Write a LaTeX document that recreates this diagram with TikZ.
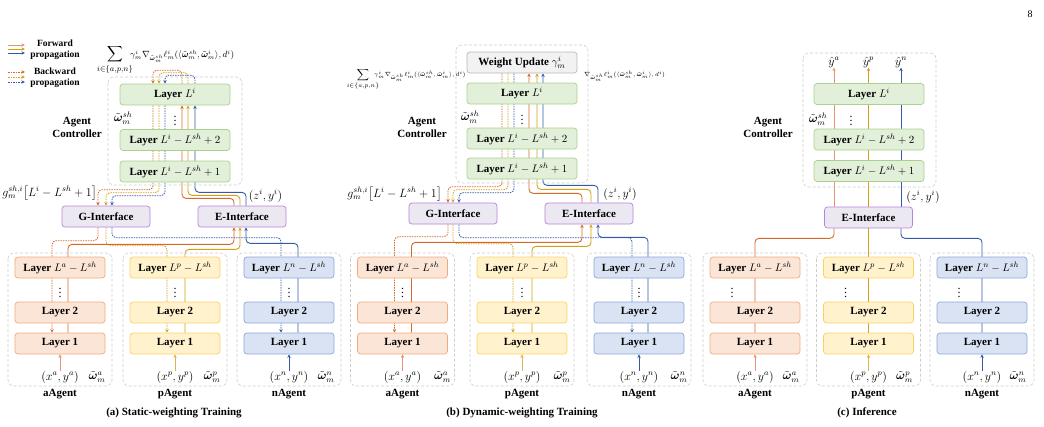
\documentclass[tikz,border=0pt]{standalone}
\usepackage{fontspec}
\setmainfont{Liberation Serif}
\usepackage{amsmath,bm}
\usetikzlibrary{arrows.meta,calc}
\pgfdeclarelayer{bg}
\pgfsetlayers{bg,main}
\definecolor{aF}{RGB}{251,229,214}\definecolor{aB}{RGB}{240,170,125}
\definecolor{pF}{RGB}{255,242,204}\definecolor{pB}{RGB}{250,210,100}
\definecolor{nF}{RGB}{218,227,243}\definecolor{nB}{RGB}{140,168,218}
\definecolor{gF}{RGB}{226,240,217}\definecolor{gB}{RGB}{169,209,142}
\definecolor{iF}{RGB}{236,232,241}\definecolor{iB}{RGB}{185,130,220}
\definecolor{wF}{RGB}{242,242,242}\definecolor{wB}{RGB}{185,185,185}
\definecolor{contC}{RGB}{205,205,205}
\definecolor{oD}{RGB}{212,105,40}\definecolor{oL}{RGB}{232,148,110}
\definecolor{yD}{RGB}{212,160,20}\definecolor{yL}{RGB}{222,180,80}
\definecolor{bD}{RGB}{55,90,168}
\tikzset{
  box/.style={draw, rounded corners=3pt, line width=0.7pt, minimum height=21pt, inner sep=1pt, font=\bfseries\fontsize{11}{13}\selectfont},
  ag/.style={box, minimum width=90pt},
  boxA/.style={ag, fill=aF, draw=aB},
  boxP/.style={ag, fill=pF, draw=pB},
  boxN/.style={ag, fill=nF, draw=nB},
  ctl/.style={box, minimum width=110pt, fill=gF, draw=gB},
  itf/.style={box, minimum width=88pt, fill=iF, draw=iB},
  wup/.style={box, minimum width=110pt, fill=wF, draw=wB},
  cont/.style={draw=contC, dash pattern=on 3pt off 2pt, rounded corners=6pt, line width=0.6pt},
  lbl/.style={font=\fontsize{12}{14}\selectfont, inner sep=0pt},
  bfl/.style={font=\bfseries\fontsize{11}{13}\selectfont, inner sep=0pt},
  tip/.style={-{Stealth[length=3.6pt,width=3.4pt]}},
  fw/.style={line width=0.9pt, rounded corners=4pt, tip},
  fwn/.style={line width=0.9pt, rounded corners=4pt},
  bw/.style={line width=0.8pt, rounded corners=4pt, dash pattern=on 1.5pt off 1pt, tip},
}
\newcommand\agentcol[7]{%
  \node[#3] (#1T) at (#2,267.5) {Layer $L^{#4}-L^{sh}$};
  \node[#3] (#1two) at (#2,312.5) {Layer 2};
  \node[#3] (#1one) at (#2,343.5) {Layer 1};
  \node[lbl] (#1dots) at ({#2+#5},290) {$\vdots$};
  \node[lbl] (#1xy) at (#2,377) {$(x^{#4},y^{#4})$};
  \node[lbl] (#1w) at ({#2+#6},377) {$\tilde{\bm\omega}^{#4}_m$};
  \node[bfl] (#1name) at (#2,394) {#4Agent};
  \draw[#7, line width=0.9pt, tip] (#1xy.north) -- (#1one.south);
  \coordinate (#1bl) at ({#2-52},253);
  \coordinate (#1tr) at ({#2+52},386);
  \draw[cont] (#1bl) rectangle (#1tr);
}
\begin{document}
\begin{tikzpicture}[x=1pt,y=-1pt]
\useasboundingbox (0,0) rectangle (1044,426);
\node[font=\fontsize{10}{12}\selectfont] (pg) at (1030,14) {8};
% ---------- legend
\coordinate (lf1a) at (8,45);\coordinate (lf1b) at (25,45);
\coordinate (lf2a) at (8,49);\coordinate (lf2b) at (25,49);
\coordinate (lf3a) at (8,53);\coordinate (lf3b) at (25,53);
\coordinate (lb1a) at (8,72);\coordinate (lb1b) at (25,72);
\coordinate (lb2a) at (8,77);\coordinate (lb2b) at (25,77);
\coordinate (lb3a) at (8,82);\coordinate (lb3b) at (25,82);
\draw[fw, oL] (lf1a) -- (lf1b);
\draw[fw, yD] (lf2a) -- (lf2b);
\draw[fw, bD] (lf3a) -- (lf3b);
\draw[bw, oD] (lb1a) -- (lb1b);
\draw[bw, yD] (lb2a) -- (lb2b);
\draw[bw, bD] (lb3a) -- (lb3b);
\node[font=\bfseries\fontsize{9.5}{11}\selectfont, align=center, inner sep=0pt] (legF) at (55,49.5) {Forward\\propagation};
\node[font=\bfseries\fontsize{9.5}{11}\selectfont, align=center, inner sep=0pt] (legB) at (55,77.5) {Backward\\propagation};

% ================= panel (a)
\node[ctl] (ALi) at (175,94.5) {Layer $L^i$};
\node[ctl] (ALb) at (175,140) {Layer $L^i-L^{sh}+2$};
\node[ctl] (ALa) at (175,171.5) {Layer $L^i-L^{sh}+1$};
\draw[cont] (108,77) rectangle (242,185);
\node[bfl, align=center] (Actl) at (77,127) {Agent\\Controller};
\node[lbl] (Aw) at (123,118) {$\tilde{\bm\omega}^{sh}_m$};
\node[lbl] (Adots) at (175,118) {$\vdots$};
\node[itf] (AG) at (106,216.5) {G-Interface};
\node[itf] (AE) at (242,216.5) {E-Interface};
\node[lbl, anchor=east] (Ag) at (97,193) {$g^{sh,i}_m\big[L^i-L^{sh}+1\big]$};
\node[lbl] (Azy) at (265.5,196) {$(z^i,y^i)$};
\node[inner sep=0pt, font=\fontsize{11}{12}\selectfont] (Asum) at (115,60) {$\displaystyle\sum_{i\in\{a,p,n\}}$};
\node[inner sep=0pt, font=\fontsize{9}{10}\selectfont, anchor=west] (Aform) at (130,56) {$\gamma^i_m\nabla_{\tilde{\bm\omega}^{sh}_m}\ell^i_m(\langle\tilde{\bm\omega}^{sh}_m,\tilde{\bm\omega}^i_m\rangle,d^i)$};
\agentcol{Aa}{60}{boxA}{a}{0}{37}{oL}
\agentcol{Ap}{175}{boxP}{p}{0}{37}{yL}
\agentcol{An}{289}{boxN}{n}{0}{37}{bD}
\node[bfl] (Acap) at (174,413) {(a) Static-weighting Training};
\begin{pgfonlayer}{bg}
\draw[fw, oD] ($(AE.north)+(-8,0)$) |- ($(ALa.south)+(7,16)$) -- ($(ALi.south)+(7,0)$);
\draw[fw, yD] ($(AE.north)+(-2,0)$) |- ($(ALa.south)+(13,13)$) -- ($(ALi.south)+(13,0)$);
\draw[fw, bD] ($(AE.north)+(4,0)$) |- ($(ALa.south)+(20,10)$) -- ($(ALi.south)+(20,0)$);
\draw[bw, oD] ($(ALi.north)+(7,0)$) |- ($(ALi.north)+(-22,-13.5)$) -- ($(ALi.north)+(-22,0)$);
\draw[bw, yD] ($(ALi.north)+(13,0)$) |- ($(ALi.north)+(-16,-11)$) -- ($(ALi.north)+(-16,0)$);
\draw[bw, bD] ($(ALi.north)+(20,0)$) |- ($(ALi.north)+(-10,-8.5)$) -- ($(ALi.north)+(-10,0)$);
\draw[bw, oD] ($(ALi.south)+(-22,0)$) |- ($(AG.north)+(-8,-16)$) -- ($(AG.north)+(-8,0)$);
\draw[bw, yD] ($(ALi.south)+(-16,0)$) |- ($(AG.north)+(0,-13)$) -- (AG.north);
\draw[bw, bD] ($(ALi.south)+(-10,0)$) |- ($(AG.north)+(6,-10)$) -- ($(AG.north)+(6,0)$);
\draw[bw, oD] ($(AG.south)+(-8,0)$) |- ($(AaT.north)+(-8,-16)$) -- ($(Aaone.north)+(-8,0)$);
\draw[bw, yD] (AG.south) |- ($(ApT.north)+(-8,-11)$) -- ($(Apone.north)+(-8,0)$);
\draw[bw, bD] ($(AG.south)+(6,0)$) |- ($(AnT.north)+(-8,-19)$) -- ($(Anone.north)+(-8,0)$);
\draw[fw, oD] ($(Aaone.north)+(8,0)$) |- ($(AE.south)+(-8,17)$) -- ($(AE.south)+(-8,0)$);
\draw[fw, yD] ($(Apone.north)+(10,0)$) |- ($(AE.south)+(-2,22)$) -- ($(AE.south)+(-2,0)$);
\draw[fw, bD] ($(Anone.north)+(9,0)$) |- ($(AE.south)+(4,16)$) -- ($(AE.south)+(4,0)$);
\end{pgfonlayer}

% ================= panel (b)
\node[wup] (BWU) at (522,62.5) {Weight Update $\gamma^i_m$};
\node[ctl] (BLi) at (522,93.5) {Layer $L^i$};
\node[ctl] (BLb) at (522,138.5) {Layer $L^i-L^{sh}+2$};
\node[ctl] (BLa) at (522,168.5) {Layer $L^i-L^{sh}+1$};
\draw[cont] (456,45) rectangle (588,183);
\node[bfl, align=center] (Bctl) at (422,127) {Agent\\Controller};
\node[lbl] (Bw) at (470,117) {$\tilde{\bm\omega}^{sh}_m$};
\node[lbl] (Bdots) at (522,117) {$\vdots$};
\node[itf] (BG) at (453,213.5) {G-Interface};
\node[itf] (BE) at (589,213.5) {E-Interface};
\node[lbl, anchor=east] (Bg) at (442,194) {$g^{sh,i}_m\big[L^i-L^{sh}+1\big]$};
\node[lbl] (Bzy) at (620,194) {$(z^i,y^i)$};
\node[inner sep=0pt, font=\fontsize{8}{9}\selectfont] (Bsum) at (363,79) {$\displaystyle\sum_{i\in\{a,p,n\}}$};
\node[inner sep=0pt, font=\fontsize{6}{7}\selectfont, anchor=west] (Bform) at (374,76) {$\gamma^i_m\nabla_{\tilde{\bm\omega}^{sh}_m}\ell^i_m(\langle\tilde{\bm\omega}^{sh}_m,\tilde{\bm\omega}^i_m\rangle,d^i)$};
\node[inner sep=0pt, font=\fontsize{6}{7}\selectfont, anchor=west] (Bform2) at (584,76) {$\nabla_{\tilde{\bm\omega}^{sh}_m}\ell^i_m(\langle\tilde{\bm\omega}^{sh}_m,\tilde{\bm\omega}^i_m\rangle,d^i)$};
\agentcol{Ba}{402.5}{boxA}{a}{0}{40}{oL}
\agentcol{Bp}{522}{boxP}{p}{0}{40}{yL}
\agentcol{Bn}{639}{boxN}{n}{0}{40}{bD}
\node[bfl] (Bcap) at (522,413) {(b) Dynamic-weighting Training};
\begin{pgfonlayer}{bg}
\draw[fw, oD] ($(BE.north)+(-7,0)$) |- ($(BLa.south)+(7,14)$) -- ($(BWU.south)+(7,0)$);
\draw[fw, yD] ($(BE.north)+(2,0)$) |- ($(BLa.south)+(15,10)$) -- ($(BWU.south)+(15,0)$);
\draw[fw, bD] ($(BE.north)+(9,0)$) |- ($(BLa.south)+(21,6)$) -- ($(BWU.south)+(21,0)$);
\draw[bw, oD] ($(BWU.south)+(-20,0)$) |- ($(BG.north)+(-5,-16)$) -- ($(BG.north)+(-5,0)$);
\draw[bw, yD] ($(BWU.south)+(-14,0)$) |- ($(BG.north)+(0,-13)$) -- (BG.north);
\draw[bw, bD] ($(BWU.south)+(-8,0)$) |- ($(BG.north)+(6,-10)$) -- ($(BG.north)+(6,0)$);
\draw[bw, oD] ($(BG.south)+(-5,0)$) |- ($(BaT.north)+(-8,-20)$) -- ($(Baone.north)+(-8,0)$);
\draw[bw, yD] (BG.south) |- ($(BpT.north)+(-9,-13)$) -- ($(Bpone.north)+(-9,0)$);
\draw[bw, bD] ($(BG.south)+(6,0)$) |- ($(BnT.north)+(-7,-19)$) -- ($(Bnone.north)+(-7,0)$);
\draw[fw, oD] ($(Baone.north)+(9,0)$) |- ($(BE.south)+(-7,18)$) -- ($(BE.south)+(-7,0)$);
\draw[fw, yD] ($(Bpone.north)+(10,0)$) |- ($(BE.south)+(2,22)$) -- ($(BE.south)+(2,0)$);
\draw[fw, bD] ($(Bnone.north)+(9,0)$) |- ($(BE.south)+(9,13)$) -- ($(BE.south)+(9,0)$);
\end{pgfonlayer}

% ================= panel (c)
\node[ctl] (CLi) at (869,94) {Layer $L^i$};
\node[ctl] (CLb) at (869,139.5) {Layer $L^i-L^{sh}+2$};
\node[ctl] (CLa) at (869,171) {Layer $L^i-L^{sh}+1$};
\draw[cont] (803,53) rectangle (936,187);
\node[bfl, align=center] (Cctl) at (768,127) {Agent\\Controller};
\node[lbl] (Cw) at (818,119) {$\tilde{\bm\omega}^{sh}_m$};
\node[lbl] (Cdots) at (851,118) {$\vdots$};
\node[lbl] (Cya) at (834,62) {$\hat{y}^a$};
\node[lbl] (Cyp) at (868.5,62) {$\hat{y}^p$};
\node[lbl] (Cyn) at (901,62) {$\hat{y}^n$};
\node[itf] (CE) at (868.5,217.5) {E-Interface};
\node[lbl] (Czy) at (923,197) {$(z^i,y^i)$};
\agentcol{Ca}{755}{boxA}{a}{-23}{36}{oL}
\agentcol{Cp}{868.5}{boxP}{p}{-23}{36}{yL}
\agentcol{Cn}{982}{boxN}{n}{-23}{36}{bD}
\node[bfl] (Ccap) at (867,413) {(c) Inference};
\begin{pgfonlayer}{bg}
\draw[fw, oL] ($(CE.north)+(-34.5,0)$) -- (Cya.south);
\draw[fw, yD] (CE.north) -- (Cyp.south);
\draw[fw, bD] ($(CE.north)+(32.5,0)$) -- (Cyn.south);
\draw[fwn, oD] (Caone.north) |- ($(CE.south)+(-34.5,10)$) -- ($(CE.south)+(-34.5,0)$);
\draw[fwn, yD] (Cpone.north) -- (CE.south);
\draw[fwn, bD] (Cnone.north) |- ($(CE.south)+(32.5,10)$) -- ($(CE.south)+(32.5,0)$);
\end{pgfonlayer}
\end{tikzpicture}
\end{document}
